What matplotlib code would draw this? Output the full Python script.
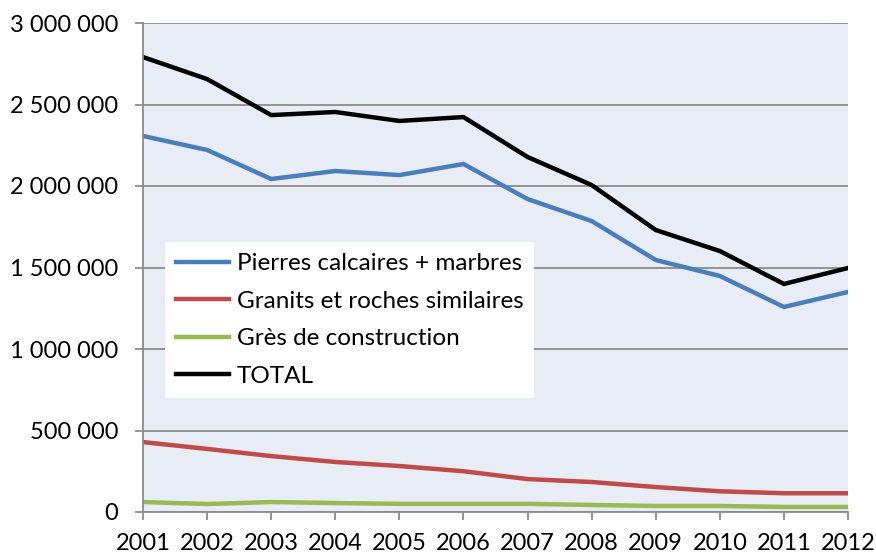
import numpy as np
import matplotlib
matplotlib.use("Agg")
import matplotlib.pyplot as plt
from matplotlib.ticker import FuncFormatter, MultipleLocator

plt.rcParams['font.family'] = ['Lato', 'DejaVu Sans']

years = list(range(2001, 2013))
pierres = [2307000, 2221000, 2043000, 2092000, 2067000, 2135000,
           1920000, 1785000, 1546000, 1448000, 1258000, 1350000]
granits = [429000, 387000, 343000, 307000, 282000, 250000,
           202000, 184000, 153000, 127000, 115000, 115000]
gres = [61000, 49000, 61000, 55000, 50000, 50000,
        50000, 43000, 37000, 37000, 31000, 31000]
total = [2791000, 2656000, 2435000, 2454000, 2399000, 2423000,
         2178000, 2006000, 1730000, 1601000, 1399000, 1497000]

labels = ["Pierres calcaires + marbres", "Granits et roches similaires",
          "Grès de construction", "TOTAL"]
colors = ["#4A7EBB", "#BE4B48", "#98B954", "#000000"]

fig = plt.figure(figsize=(8.76, 5.58), dpi=100)
ax = fig.add_axes([143/876, 1-512/558, 705/876, 489/558])
ax.set_facecolor("#E8ECF4")

for vals, lab, col in zip([pierres, granits, gres, total], labels, colors):
    ax.plot(years, vals, color=col, lw=3.2, label=lab, solid_joinstyle='miter')

ax.set_xlim(2001, 2012)
ax.set_ylim(0, 3000000)
ax.set_xticks(years)
ax.yaxis.set_major_locator(MultipleLocator(500000))
ax.yaxis.set_major_formatter(FuncFormatter(lambda v, p: f"{int(v):,}".replace(",", " ")))
ax.grid(axis='y', color="#8C8C8C", lw=1.3)
ax.set_axisbelow(True)

for s in ['top', 'right']:
    ax.spines[s].set_visible(False)
for s in ['left', 'bottom']:
    ax.spines[s].set_color("#8C8C8C")
    ax.spines[s].set_linewidth(1.3)
ax.tick_params(axis='both', colors="#8C8C8C", width=1.3, length=6, labelcolor='black', labelsize=17)
ax.tick_params(axis='x', pad=9)
ax.tick_params(axis='y', pad=12)

leg = ax.legend(loc='upper left', bbox_to_anchor=(0.031, 0.552), frameon=True,
                fancybox=False, framealpha=1, edgecolor='white', fontsize=17.5,
                handlelength=2.2, handletextpad=0.3, labelspacing=0.68,
                borderpad=0.45, borderaxespad=0)
leg.get_frame().set_linewidth(0)

fig.savefig("out.png", dpi=100)
